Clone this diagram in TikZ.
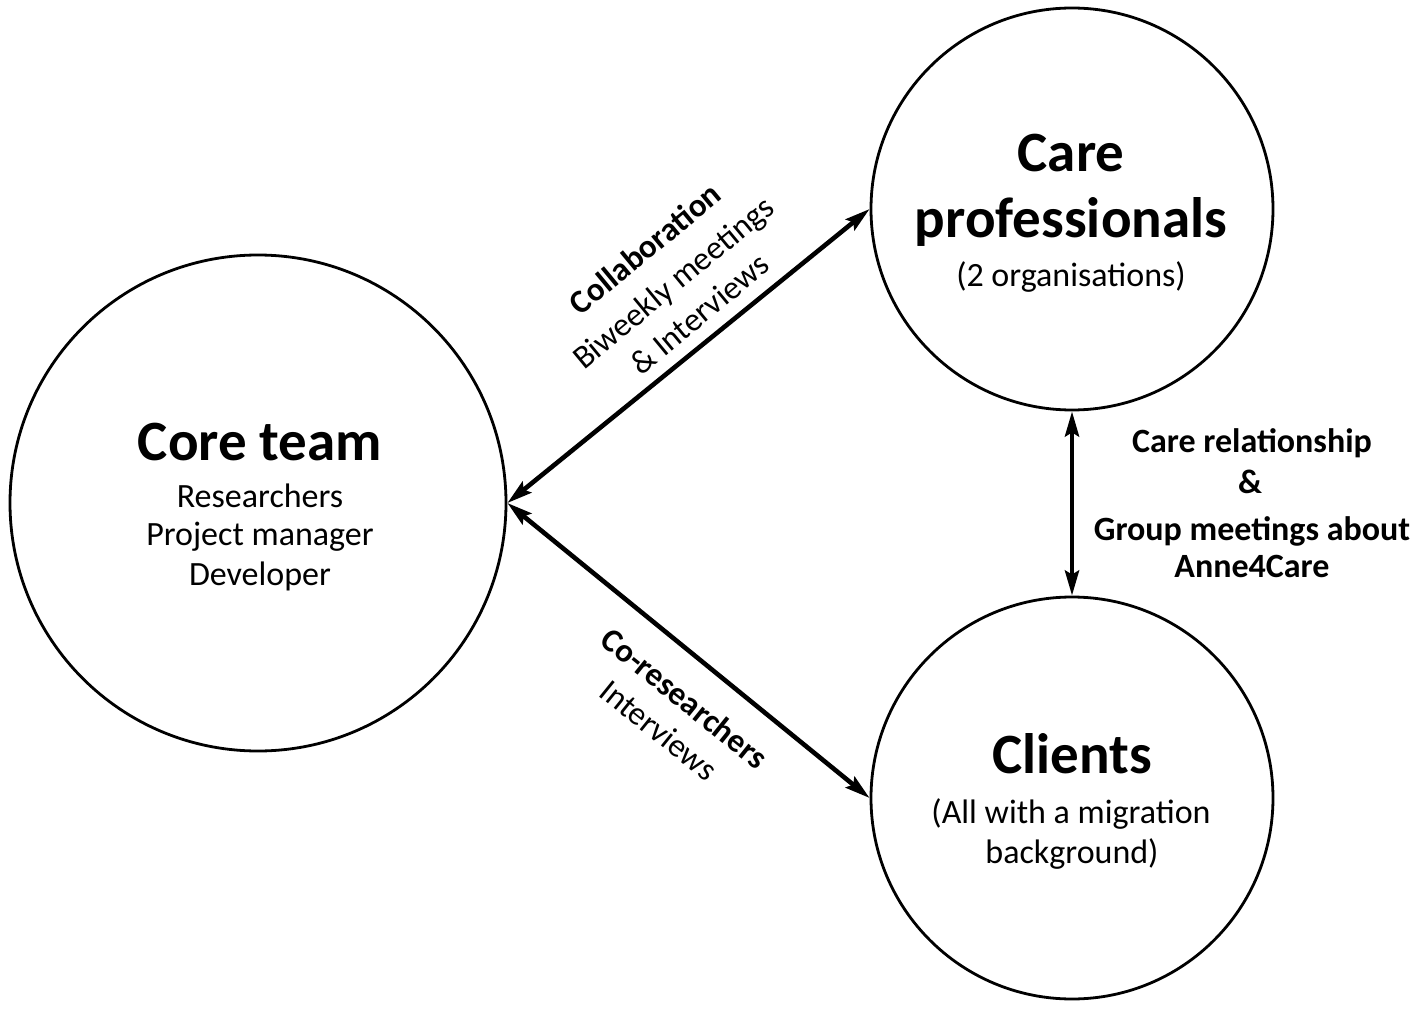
\documentclass[tikz,border=0pt]{standalone}
\usepackage{fontspec}
\setmainfont{Carlito}
\usetikzlibrary{arrows.meta}
\tikzset{
  circ/.style={circle, draw=black, line width=2.8pt, minimum size=#1, inner sep=0pt},
  biarrow/.style={line width=4.6pt, {Stealth[length=25pt,width=14pt,inset=4pt]}-{Stealth[length=25pt,width=14pt,inset=4pt]}},
  titletext/.style={anchor=base, inner sep=0pt, font=\fontsize{57pt}{62pt}\selectfont\bfseries},
  bodytext/.style={anchor=base, inner sep=0pt, font=\fontsize{34pt}{40pt}\selectfont},
  boldlabel/.style={anchor=base, inner sep=0pt, font=\fontsize{34pt}{40pt}\selectfont\bfseries},
  rotlabel/.style={align=center, inner sep=0pt, font=\fontsize{33pt}{41pt}\selectfont}
}
\begin{document}
\begin{tikzpicture}[x=1pt,y=-1pt]
\useasboundingbox[fill=white] (0,0) rectangle (1417,1011);
% circles
\node[circ=496pt] (core) at (258,503) {};
\node[circ=402pt] (care) at (1072,209) {};
\node[circ=402pt] (clients) at (1072,798) {};
% core text
\node[titletext] (coret) at (260,460) {Core team};
\node[bodytext] (core1) at (260,507) {Researchers};
\node[bodytext] (core2) at (260,545) {Project manager};
\node[bodytext] (core3) at (260,585) {Developer};
% care text
\node[titletext] (caret1) at (1071,172) {Care};
\node[titletext] (caret2) at (1071,238) {professionals};
\node[bodytext] (care1) at (1071,287) {(2 organisations)};
% clients text
\node[titletext] (clit) at (1072,773) {Clients};
\node[bodytext] (cli1) at (1071,823) {(All with a migration};
\node[bodytext] (cli2) at (1072,863) {background)};
% connectors
\draw[biarrow] (core.east) -- (care.west);
\draw[biarrow] (core.east) -- (clients.west);
\draw[biarrow] (care.south) -- (clients.north);
% connector labels
\node[rotlabel, rotate=39.6] (collab) at (672,281) {\textbf{Collaboration}\\[3pt]Biweekly meetings\\\& Interviews};
\node[rotlabel, rotate=-38.9] (cores) at (672,714) {\textbf{Co-researchers}\\Interviews};
\node[boldlabel] (rel1) at (1252,452) {Care relationship};
\node[boldlabel] (rel2) at (1250,493) {\&};
\node[boldlabel] (rel3) at (1252,540) {Group meetings about};
\node[boldlabel] (rel4) at (1252,577) {Anne4Care};
\end{tikzpicture}
\end{document}
